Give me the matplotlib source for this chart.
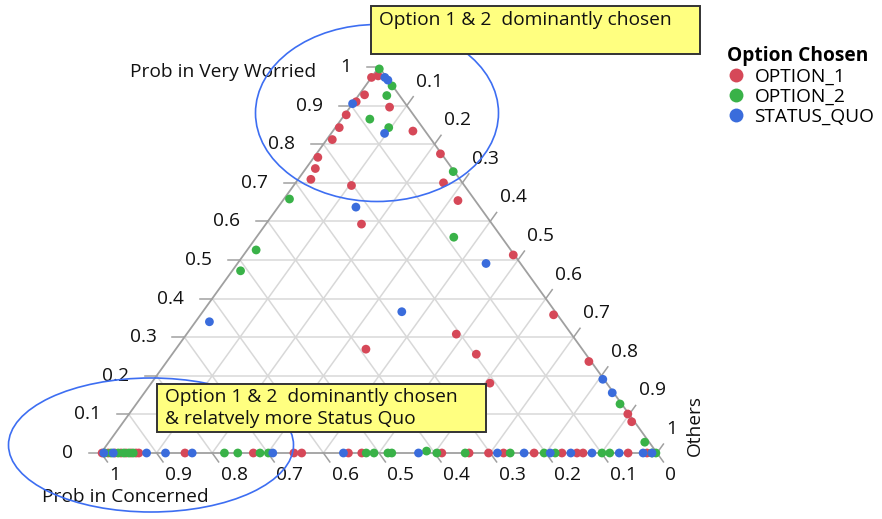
import matplotlib
matplotlib.use("Agg")
import matplotlib.pyplot as plt
from matplotlib.patches import Rectangle, Ellipse
from matplotlib.lines import Line2D
import numpy as np

plt.rcParams['font.family'] = ['Open Sans', 'DejaVu Sans']

# ---------------- data (ternary: Prob in Concerned, Prob in Very Worried; Others = 1 - both)
groups = ["OPTION_1", "OPTION_2", "STATUS_QUO"]
group_colors = ["#D64858", "#39B248", "#3A6CDC"]

opt1_concerned = [0.027, 0.013, 0.062, 0.086, 0.033, 0.121, 0.150, 0.022, 0.178, 0.002,
                  0.227, 0.246, 0.268, 0.203, 0.034, 0.031, 0.235, 0.002, 0.207, 0.389,
                  0.197, 0.007, 0.210, 0.004, 0.002, 0.005,
                  0.998, 0.987, 0.975, 0.964, 0.955, 0.946, 0.937, 0.932, 0.849, 0.726,
                  0.653, 0.639, 0.555, 0.531, 0.387, 0.338, 0.303, 0.276, 0.221, 0.171,
                  0.144, 0.133, 0.052, 0.018]
opt1_worried = [0.973, 0.977, 0.928, 0.910, 0.896, 0.876, 0.843, 0.834, 0.812, 0.775,
                0.766, 0.737, 0.709, 0.693, 0.700, 0.654, 0.593, 0.513, 0.308, 0.269,
                0.256, 0.358, 0.181, 0.237, 0.101, 0.081,
                0, 0, 0, 0, 0, 0, 0, 0, 0, 0,
                0, 0, 0, 0, 0, 0, 0, 0, 0, 0,
                0, 0, 0, 0]

opt2_concerned = [0.002, 0.001, 0.023, 0.084, 0.061, 0.002, 0.332, 0.458, 0.086, 0.513,
                  0.003, 0.008, 0.412,
                  0.993, 0.982, 0.969, 0.959, 0.950, 0.942, 0.778, 0.754, 0.714, 0.699,
                  0.523, 0.509, 0.484, 0.477, 0.396, 0.345, 0.264, 0.203, 0.183, 0.099,
                  0.085, 0.009, 0.002]
opt2_worried = [0.995, 0.951, 0.926, 0.865, 0.843, 0.729, 0.658, 0.526, 0.559, 0.472,
                0.127, 0.028, 0.005,
                0, 0, 0, 0, 0, 0, 0, 0, 0, 0,
                0, 0, 0, 0, 0, 0, 0, 0, 0, 0,
                0, 0, 0]

sq_concerned = [0.003, 0.001, 0.095, 0.076, 0.223, 0.062, 0.635, 0.276, 0.002, 0.0025,
                0.995, 0.978, 0.918, 0.884, 0.836, 0.691, 0.564, 0.429, 0.287, 0.239,
                0.192, 0.155, 0.117, 0.068, 0.025, 0.009]
sq_worried = [0.973, 0.966, 0.905, 0.828, 0.637, 0.491, 0.340, 0.366, 0.191, 0.156,
              0, 0, 0, 0, 0, 0, 0, 0, 0, 0,
              0, 0, 0, 0, 0, 0]

tick_values = [0, 0.1, 0.2, 0.3, 0.4, 0.5, 0.6, 0.7, 0.8, 0.9, 1]
tick_labels = ["0", "0.1", "0.2", "0.3", "0.4", "0.5", "0.6", "0.7", "0.8", "0.9", "1"]

# ---------------- layout
W, H = 882, 519
fig = plt.figure(figsize=(W / 100, H / 100), dpi=100)
ax = fig.add_axes([0, 0, 1, 1])
ax.set_xlim(0, W)
ax.set_ylim(H, 0)
ax.axis('off')

X0, Y0, BASE, HGT = 101, 453, 556, 386
FS = 13.8
TXT = "#111111"
GRID = "#D8D8D8"
EDGE = "#A0A0A0"


def tern(c, w):
    c = np.asarray(c, dtype=float)
    w = np.asarray(w, dtype=float)
    o = 1 - c - w
    return X0 + BASE * (o + w / 2), Y0 - HGT * w


# grid lines
for v in tick_values[1:-1]:
    xa, ya = tern([1 - v, 0], [v, v])          # constant Very Worried
    ax.plot(xa, ya, color=GRID, lw=1.1, zorder=1)
    xa, ya = tern([v, v], [0, 1 - v])          # constant Concerned
    ax.plot(xa, ya, color=GRID, lw=1.1, zorder=1)
    xa, ya = tern([1 - v, 0], [0, 1 - v])      # constant Others
    ax.plot(xa, ya, color=GRID, lw=1.1, zorder=1)

# triangle edges
xa, ya = tern([1, 0, 0, 1], [0, 0, 1, 0])
ax.plot(xa, ya, color=EDGE, lw=1.3, zorder=2)

# tick directions
L = np.hypot(BASE / 2, HGT)
d_right = np.array([BASE / 2, HGT]) / L        # down-right, parallel to right edge
d_left = np.array([BASE / 2, -HGT]) / L        # up-right, parallel to left edge
TL = 11

for v, lab in zip(tick_values, tick_labels):
    # left axis: Prob in Very Worried
    x, y = tern(1 - v, v)
    ax.plot([x - 12, x], [y, y], color=EDGE, lw=1.1, zorder=2)
    ax.text(x - 28, y, lab, ha='right', va='center', fontsize=FS, color=TXT)
    # bottom axis: Prob in Concerned
    x, y = tern(v, 0)
    xe, ye = x + d_right[0] * TL, y + d_right[1] * TL
    ax.plot([x, xe], [y, ye], color=EDGE, lw=1.1, zorder=2)
    ax.text(xe + 2, ye + 13, lab, ha='left', va='center', fontsize=FS, color=TXT)
    # right axis: Others
    if v > 0:
        x, y = tern(0, 1 - v)
        xe, ye = x + d_left[0] * TL, y + d_left[1] * TL
        ax.plot([x, xe], [y, ye], color=EDGE, lw=1.1, zorder=2)
        ax.text(xe + 3, ye - 15, lab, ha='left', va='center', fontsize=FS, color=TXT)

# points
for (cc, ww), col in zip([(opt1_concerned, opt1_worried),
                          (opt2_concerned, opt2_worried),
                          (sq_concerned, sq_worried)], group_colors):
    x, y = tern(cc, ww)
    ax.scatter(x, y, s=40, color=col, edgecolors='none', zorder=3, clip_on=False)

# axis titles
ax.text(223, 72, "Prob in Very Worried", ha='center', va='center', fontsize=FS, color=TXT)
ax.text(125, 497, "Prob in Concerned", ha='center', va='center', fontsize=FS, color=TXT)
ax.text(695, 425, "Others", ha='center', va='center', rotation=90, fontsize=FS, color=TXT)

# ellipses
ax.add_patch(Ellipse((377, 113), 243, 177, fill=False, edgecolor="#3D6EF2", lw=1.2, zorder=4))
ax.add_patch(Ellipse((151, 445), 285, 134, fill=False, edgecolor="#3D6EF2", lw=1.2, zorder=4))

# annotation boxes
ax.add_patch(Rectangle((371, 6), 329, 48, facecolor="#FFFF80", edgecolor="#333333", lw=1.4, zorder=5))
ax.text(379, 20, "Option 1 & 2  dominantly chosen", ha='left', va='center', fontsize=FS,
        color=TXT, zorder=6)
ax.add_patch(Rectangle((157, 384), 329, 48, facecolor="#FFFF80", edgecolor="#333333", lw=1.4, zorder=5))
ax.text(165, 397, "Option 1 & 2  dominantly chosen", ha='left', va='center', fontsize=FS,
        color=TXT, zorder=6)
ax.text(165, 419, "& relatvely more Status Quo", ha='left', va='center', fontsize=FS,
        color=TXT, zorder=6)

# legend
handles = [Line2D([], [], marker='o', linestyle='none', markersize=10,
                  markerfacecolor=c, markeredgecolor='none') for c in group_colors]
leg = ax.legend(handles, groups, title="Option Chosen", loc='upper left',
                bbox_to_anchor=(717 / W, 1 - 36 / H), bbox_transform=fig.transFigure,
                frameon=False, alignment='left', fontsize=FS,
                title_fontproperties={'weight': 'bold', 'size': FS},
                handletextpad=0.45, labelspacing=0.1, borderpad=0, handlelength=1.0)

fig.savefig("out.png", dpi=100)
